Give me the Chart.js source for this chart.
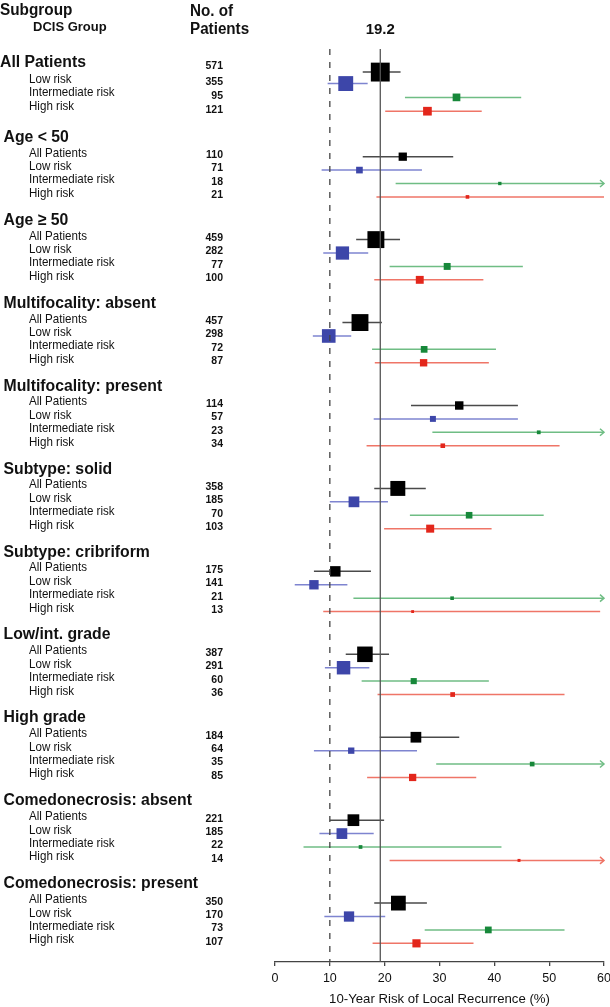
<!DOCTYPE html>
<html>
<head>
<meta charset="utf-8">
<script src="https://cdn.jsdelivr.net/npm/chart.js@4.4.1/dist/chart.umd.min.js"></script>
<style>
  html, body { margin: 0; padding: 0; background: #fff; }
</style>
</head>
<body>
<canvas id="forest" width="610" height="1007"></canvas>
<script>
const overallRate = 19.2;
const referenceRate = 10;
const xTicks = [0, 10, 20, 30, 40, 50, 60];

const groups = [
  "All Patients", "Age < 50", "Age \u2265 50", "Multifocality: absent",
  "Multifocality: present", "Subtype: solid", "Subtype: cribriform",
  "Low/int. grade", "High grade", "Comedonecrosis: absent", "Comedonecrosis: present"
];
const riskLevels = ["All Patients", "Low risk", "Intermediate risk", "High risk"];

// number of patients per group
const allN  = [571, 110, 459, 457, 114, 358, 175, 387, 184, 221, 350];
const lowN  = [355, 71, 282, 298, 57, 185, 141, 291, 64, 185, 170];
const intN  = [95, 18, 77, 72, 23, 70, 21, 60, 35, 22, 73];
const highN = [121, 21, 100, 87, 34, 103, 13, 36, 85, 14, 107];

// 10-year risk estimate and CI (%)
const allEst = [19.2, 23.3, 18.4, 15.5, 33.6, 22.4, 11.0, 16.4, 25.7, 14.3, 22.5];
const allLo  = [16.0, 16.0, 14.8, 12.3, 24.8, 18.1, 7.1, 12.9, 19.1, 10.0, 18.1];
const allHi  = [22.9, 32.5, 22.8, 19.5, 44.3, 27.5, 17.5, 20.8, 33.6, 19.9, 27.7];

const lowEst = [12.9, 15.4, 12.3, 9.8, 28.8, 14.4, 7.1, 12.5, 13.9, 12.2, 13.5];
const lowLo  = [9.6, 8.5, 8.8, 6.9, 18.0, 10.0, 3.6, 9.1, 7.1, 8.1, 9.0];
const lowHi  = [16.9, 26.8, 17.0, 13.9, 44.3, 20.6, 13.2, 17.2, 25.9, 18.0, 20.1];

const intEst = [33.1, 41.0, 31.4, 27.2, 48.1, 35.4, 32.3, 25.3, 46.9, 15.6, 38.9];
const intLo  = [23.7, 22.0, 20.9, 17.7, 28.7, 24.6, 14.3, 15.8, 29.4, 5.2, 27.3];
const intHi  = [44.9, 62, 45.2, 40.3, 62, 49.0, 62, 39.0, 62, 41.3, 52.8];

const highEst = [27.8, 35.1, 26.4, 27.1, 30.6, 28.3, 25.1, 32.4, 25.1, 44.5, 25.8];
const highLo  = [20.1, 18.5, 18.1, 18.2, 16.7, 19.9, 8.8, 18.7, 16.8, 20.9, 17.8];
const highHi  = [37.7, 60, 38.0, 39.0, 51.9, 39.5, 59.3, 52.8, 36.7, 62, 36.2];

const series = [
  { n: allN, est: allEst, lo: allLo, hi: allHi, box: "#000000", line: "#4a4a4a" },
  { n: lowN, est: lowEst, lo: lowLo, hi: lowHi, box: "#3d46a9", line: "#7e84d0" },
  { n: intN, est: intEst, lo: intLo, hi: intHi, box: "#17883a", line: "#6fbd84" },
  { n: highN, est: highEst, lo: highLo, hi: highHi, box: "#e3261b", line: "#ef7567" },
];

// vertical layout in row units (top to bottom)
const headerPos = (g) => (g === 0 ? 0 : 5.43 + (g - 1) * 6);
const rowPos = (g, r) => {
  if (g === 0) return r === 0 ? 0.72 : 0.55 + r;
  return headerPos(g) + 1.41 + 0.97 * r;
};

const datasets = series.map((s, k) => ({
  label: riskLevels[k],
  data: groups.map((_, g) => ({
    x: s.est[g], y: rowPos(g, k), lo: s.lo[g], hi: s.hi[g], n: s.n[g],
  })),
  pointStyle: "rect",
  pointRadius: (c) => (0.79 * Math.sqrt(c.raw.n)) / Math.SQRT2,
  backgroundColor: s.box,
  borderColor: s.box,
  borderWidth: 0,
  lineColor: s.line,
  clip: false,
}));

const FONT = "'Liberation Sans', Arial, Helvetica, sans-serif";

// the source uses a narrow Helvetica, so squeeze the text a bit
function narrowText(ctx, text, x, y, font, sx, align) {
  ctx.save();
  ctx.translate(x, y);
  ctx.scale(sx, 1);
  ctx.font = font;
  ctx.textAlign = align;
  ctx.fillText(text, 0, 0);
  ctx.restore();
}

// chart.js keeps room for half of the "60" label; the plot runs nearer the edge
const stretchRight = {
  id: "stretchRight",
  afterLayout(chart) {
    const xs = chart.scales.x;
    const right = chart.width - 6;
    chart.chartArea.right = right;
    chart.chartArea.width = right - chart.chartArea.left;
    xs.right = right;
    xs.width = right - xs.left;
    xs.configure();
  },
};

const errorBars = {
  id: "errorBars",
  beforeDatasetsDraw(chart) {
    const { ctx } = chart;
    const xs = chart.scales.x, ys = chart.scales.y;
    ctx.save();
    ctx.lineWidth = 1.5;
    chart.data.datasets.forEach((ds) => {
      ctx.strokeStyle = ds.lineColor;
      ds.data.forEach((p) => {
        const y = ys.getPixelForValue(p.y);
        const x1 = xs.getPixelForValue(p.lo);
        const over = p.hi > xs.max;
        const x2 = xs.getPixelForValue(Math.min(p.hi, xs.max));
        ctx.beginPath();
        ctx.moveTo(x1, y);
        ctx.lineTo(x2, y);
        ctx.stroke();
        if (over) {
          ctx.beginPath();
          ctx.moveTo(x2 - 4, y - 3.5);
          ctx.lineTo(x2, y);
          ctx.lineTo(x2 - 4, y + 3.5);
          ctx.stroke();
        }
      });
    });
    ctx.restore();
  },
};

const refLines = {
  id: "refLines",
  afterDatasetsDraw(chart) {
    const { ctx, chartArea } = chart;
    const xs = chart.scales.x;
    ctx.save();
    ctx.lineWidth = 1.3;
    ctx.strokeStyle = "#444";
    ctx.setLineDash([6, 7]);
    let x = xs.getPixelForValue(referenceRate);
    ctx.beginPath();
    ctx.moveTo(x, chartArea.top);
    ctx.lineTo(x, chartArea.bottom);
    ctx.stroke();
    ctx.setLineDash([]);
    ctx.strokeStyle = "#555";
    x = xs.getPixelForValue(overallRate);
    ctx.beginPath();
    ctx.moveTo(x, chartArea.top);
    ctx.lineTo(x, chartArea.bottom);
    ctx.stroke();
    ctx.restore();
  },
};

const sideTable = {
  id: "sideTable",
  afterDraw(chart) {
    const { ctx } = chart;
    const ys = chart.scales.y, xs = chart.scales.x;
    ctx.save();
    ctx.fillStyle = "#111";
    ctx.textBaseline = "middle";

    // column headers
    narrowText(ctx, "Subgroup", 0, 10, "bold 16.5px " + FONT, 0.93, "left");
    narrowText(ctx, "No. of", 190, 12, "bold 16px " + FONT, 0.95, "left");
    narrowText(ctx, "Patients", 190, 30, "bold 16px " + FONT, 0.95, "left");
    narrowText(ctx, "DCIS Group", 33, 27, "bold 13px " + FONT, 1, "left");
    narrowText(ctx, String(overallRate), xs.getPixelForValue(overallRate), 30,
      "bold 15px " + FONT, 1, "center");

    groups.forEach((name, g) => {
      const hy = ys.getPixelForValue(headerPos(g));
      narrowText(ctx, name, g === 0 ? 0 : 3.5, hy, "bold 16.8px " + FONT, 0.94, "left");

      series.forEach((s, k) => {
        const my = ys.getPixelForValue(rowPos(g, k));
        let numY = my - 1.5;
        if (g === 0 && k === 0) {
          numY = hy + 4;
        } else {
          const ty = g === 0 ? my - 4.5 : my - 3.5;
          narrowText(ctx, riskLevels[k], 29, ty, "12.6px " + FONT, 0.92, "left");
        }
        narrowText(ctx, String(s.n[g]), 223, numY, "bold 10.5px " + FONT, 1, "right");
      });
    });
    ctx.restore();
  },
};

new Chart(document.getElementById("forest"), {
  type: "scatter",
  data: { datasets },
  options: {
    responsive: false,
    animation: false,
    devicePixelRatio: 1,
    layout: { padding: { left: 275, right: 6, top: 49, bottom: 0 } },
    plugins: { legend: { display: false }, tooltip: { enabled: false } },
    scales: {
      x: {
        type: "linear",
        min: xTicks[0],
        max: xTicks[xTicks.length - 1],
        afterBuildTicks: (scale) => { scale.ticks = xTicks.map((v) => ({ value: v })); },
        afterFit: (scale) => { scale.height = 45; },
        grid: { drawOnChartArea: false, drawTicks: true, tickLength: 4, color: "#444", lineWidth: 1.3 },
        border: { display: true, color: "#444", width: 1.3 },
        ticks: { color: "#111", font: { size: 12.5, family: FONT }, padding: 5, maxRotation: 0 },
        title: {
          display: true,
          text: "10-Year Risk of Local Recurrence (%)",
          color: "#111",
          font: { size: 13.2, family: FONT },
          padding: { top: 0, bottom: 0 },
        },
      },
      y: { type: "linear", reverse: true, min: -0.95, max: 65.1, display: false },
    },
  },
  plugins: [stretchRight, errorBars, refLines, sideTable],
});
</script>
</body>
</html>
